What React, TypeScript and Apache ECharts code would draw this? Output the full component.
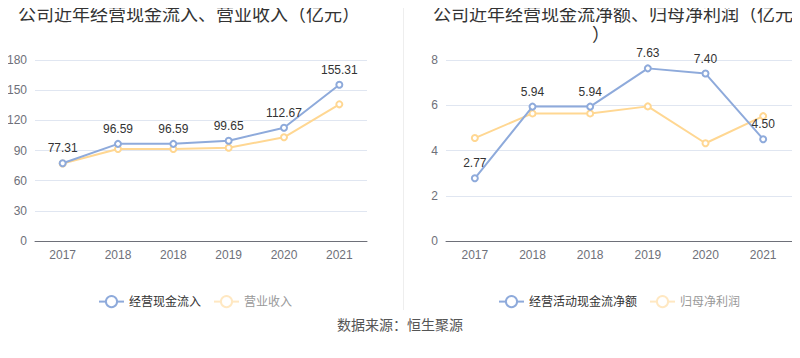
import React, { useEffect, useRef } from "react";
import * as echarts from "echarts";

const years = ["2017", "2018", "2018", "2019", "2020", "2021"];
const cashInflow = [77.31, 96.59, 96.59, 99.65, 112.67, 155.31];
const revenue = [77.0, 91.5, 91.5, 92.8, 103.1, 135.9];
const netCashFlow = [2.77, 5.94, 5.94, 7.63, 7.4, 4.5];
const netProfit = [4.55, 5.64, 5.64, 5.95, 4.32, 5.52];

const leftTitle = "公司近年经营现金流入、营业收入（亿元）";
const rightTitle1 = "公司近年经营现金流净额、归母净利润（亿元";
const rightTitle2 = "）";
const footer = "数据来源：恒生聚源";

const BLUE = "#8eaadb";
const YELLOW = "#ffd792";
const YELLOW_LIGHT = "#ffe8c2";
const FONT = "'Liberation Sans', 'Noto Sans CJK SC', sans-serif";

export default function App() {
  const ref = useRef<HTMLDivElement>(null);
  useEffect(() => {
    if (!ref.current) return;
    const chart = echarts.init(ref.current, undefined, { renderer: "svg" });
    const xAxisBase = (gridIndex: number) => ({
      type: "category",
      gridIndex,
      data: years,
      boundaryGap: true,
      axisTick: { alignWithLabel: true, lineStyle: { color: "#6E7079" } },
      axisLine: { lineStyle: { color: "#6E7079" } },
      axisLabel: { color: "#6E7079", fontSize: 12, fontFamily: FONT, margin: 8 },
    });
    const yAxisBase = (gridIndex: number, max: number, interval: number) => ({
      type: "value",
      gridIndex,
      min: 0,
      max,
      interval,
      axisLine: { show: false },
      axisTick: { show: false },
      axisLabel: { color: "#6E7079", fontSize: 12, fontFamily: FONT },
      splitLine: { lineStyle: { color: "#E0E6F1" } },
    });
    const lineSeries = (name: string, data: number[], idx: number, color: string, label: boolean) => ({
      name,
      type: "line",
      xAxisIndex: idx,
      yAxisIndex: idx,
      data,
      symbol: "emptyCircle",
      symbolSize: 6,
      lineStyle: { color, width: 2 },
      itemStyle: { color, borderWidth: 2 },
      label: {
        show: label,
        position: "top",
        color: "#333",
        fontSize: 12,
        fontFamily: FONT,
        formatter: (p: any) => Number(p.value).toFixed(2),
      },
      z: label ? 3 : 2,
    });
    const legendBase = (left: number, first: string, second: string) => ({
      left,
      top: 290,
      itemWidth: 25,
      itemHeight: 14,
      itemGap: 12,
      textStyle: { fontSize: 12, color: "#333", fontFamily: FONT },
      data: [
        { name: first },
        {
          name: second,
          itemStyle: { color: YELLOW_LIGHT, borderColor: YELLOW_LIGHT },
          lineStyle: { color: YELLOW_LIGHT },
          textStyle: { color: "#999" },
        },
      ],
    });
    chart.setOption({
      animation: false,
      textStyle: { fontFamily: FONT },
      grid: [
        { left: 35, right: 433, top: 60, bottom: 117 },
        { left: 446, right: 8, top: 60, bottom: 117 },
      ],
      xAxis: [xAxisBase(0), xAxisBase(1)],
      yAxis: [yAxisBase(0, 180, 30), yAxisBase(1, 8, 2)],
      legend: [
        legendBase(93, "经营现金流入", "营业收入"),
        legendBase(493, "经营活动现金流净额", "归母净利润"),
      ],
      series: [
        lineSeries("营业收入", revenue, 0, YELLOW, false),
        lineSeries("经营现金流入", cashInflow, 0, BLUE, true),
        lineSeries("归母净利润", netProfit, 1, YELLOW, false),
        lineSeries("经营活动现金流净额", netCashFlow, 1, BLUE, true),
      ],
      graphic: [
        {
          type: "text",
          x: 18,
          y: 15,
          style: { text: leftTitle, fontSize: 18, fill: "#333", fontFamily: FONT, verticalAlign: "middle" },
        },
        {
          type: "text",
          x: 433,
          y: 15,
          style: { text: rightTitle1, fontSize: 18, fill: "#333", fontFamily: FONT, verticalAlign: "middle" },
        },
        {
          type: "text",
          x: 592,
          y: 35,
          style: { text: rightTitle2, fontSize: 18, fill: "#333", fontFamily: FONT, verticalAlign: "middle" },
        },
        {
          type: "line",
          shape: { x1: 403.5, y1: 0, x2: 403.5, y2: 310 },
          style: { stroke: "#eeeeee", lineWidth: 1 },
        },
        {
          type: "text",
          x: 400,
          y: 325,
          style: { text: footer, fontSize: 14, fill: "#555", fontFamily: FONT, align: "center", verticalAlign: "middle" },
        },
      ],
    });
    return () => chart.dispose();
  }, []);
  return <div ref={ref} style={{ width: 800, height: 358, margin: -8 }} />;
}
